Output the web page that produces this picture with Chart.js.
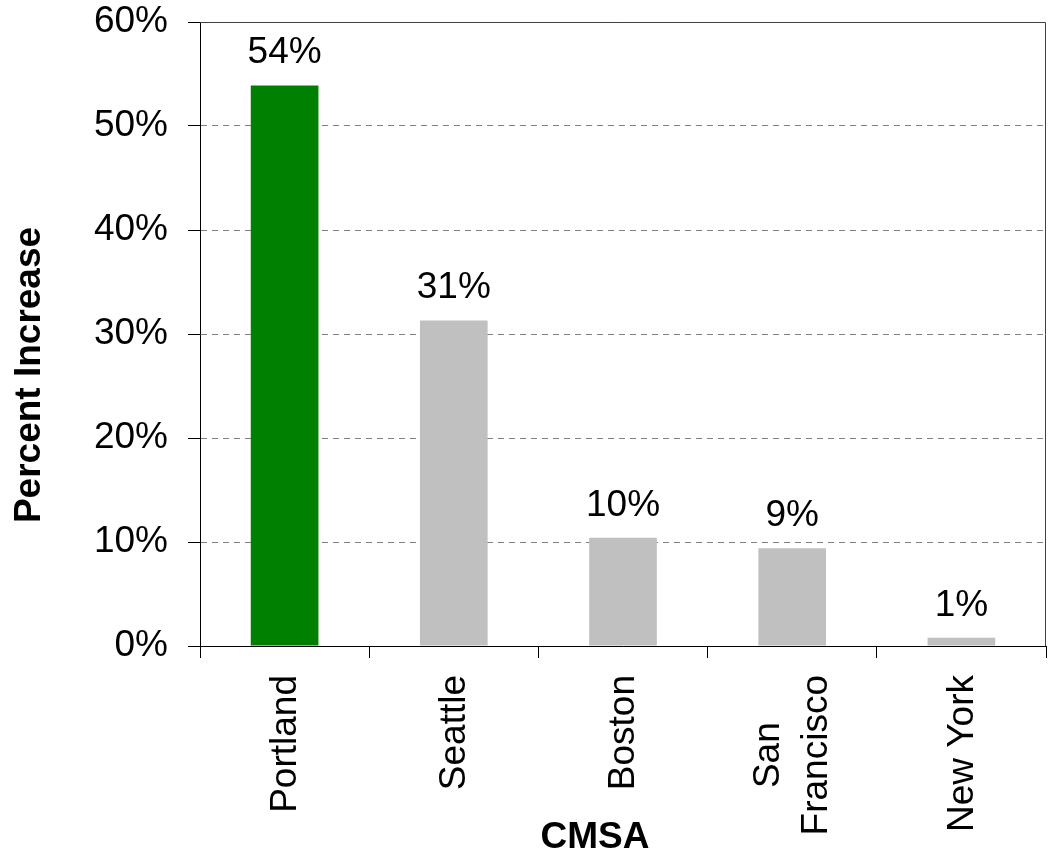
<!DOCTYPE html>
<html>
<head>
<meta charset="utf-8">
<script src="https://cdn.jsdelivr.net/npm/chart.js@4/dist/chart.umd.min.js"></script>
<style>
  html, body { margin: 0; padding: 0; background: #fff; }
  #wrap { width: 1050px; height: 859px; }
</style>
</head>
<body>
<div id="wrap"><canvas id="myChart" width="1050" height="859"></canvas></div>
<script>
var cities = ['Portland', 'Seattle', 'Boston', ['San', 'Francisco'], 'New York'];
var increase = [53.9, 31.3, 10.4, 9.4, 0.8];
var barColors = ['#008000', '#c0c0c0', '#c0c0c0', '#c0c0c0', '#c0c0c0'];
var yTicks = [0, 10, 20, 30, 40, 50, 60];

var FONT = 'Liberation Sans, Arial, sans-serif';

// value labels, category labels, axis titles, plot border
var labelPlugin = {
    id: 'labelPlugin',
    afterDraw: function(chart) {
        var ctx = chart.ctx;
        var area = chart.chartArea;
        ctx.save();
        ctx.strokeStyle = '#404040';
        ctx.lineWidth = 1;
        ctx.beginPath();
        ctx.moveTo(area.left, area.top + 0.5);
        ctx.lineTo(area.right - 0.5, area.top + 0.5);
        ctx.lineTo(area.right - 0.5, area.bottom);
        ctx.stroke();

        ctx.fillStyle = '#000';
        ctx.font = '37px ' + FONT;
        ctx.textAlign = 'center';
        ctx.textBaseline = 'alphabetic';
        var meta = chart.getDatasetMeta(0);
        meta.data.forEach(function(bar, i) {
            ctx.fillText(Math.round(increase[i]) + '%', bar.x, bar.y - 22);
        });

        // category labels, rotated, block top at a fixed distance under the axis
        var xs = chart.scales.x;
        ctx.textBaseline = 'middle';
        cities.forEach(function(lab, i) {
            var lines = Array.isArray(lab) ? lab : [lab];
            var maxW = 0;
            lines.forEach(function(l) { maxW = Math.max(maxW, ctx.measureText(l).width); });
            var cx = xs.getPixelForValue(i) + 1;
            var cy = area.bottom + 29 + maxW / 2;
            lines.forEach(function(l, j) {
                ctx.save();
                ctx.translate(cx + (j - (lines.length - 1) / 2) * 48, cy);
                ctx.rotate(-Math.PI / 2);
                ctx.fillText(l, 0, 0);
                ctx.restore();
            });
        });

        ctx.font = 'bold 37px ' + FONT;
        ctx.fillText('CMSA', 595, 838);
        ctx.translate(30, 375);
        ctx.rotate(-Math.PI / 2);
        ctx.fillText('Percent Increase', 0, 0);
        ctx.restore();
    }
};

var ctx1 = document.getElementById('myChart').getContext('2d');
var myBarChart = new Chart(ctx1, {
    type: 'bar',
    data: {
        labels: cities,
        datasets: [{
            data: increase,
            backgroundColor: barColors,
            borderWidth: 0,
            barPercentage: 0.8,
            categoryPercentage: 0.5
        }]
    },
    options: {
        responsive: false,
        animation: false,
        layout: { padding: { top: 22, right: 4, left: 0, bottom: 0 } },
        plugins: {
            legend: { display: false },
            tooltip: { enabled: false }
        },
        scales: {
            x: {
                grid: {
                    drawOnChartArea: false,
                    drawTicks: true,
                    tickLength: 12,
                    tickColor: '#000',
                    offset: true
                },
                border: { color: '#000', width: 1 },
                ticks: { display: false },
                afterFit: function(scale) { scale.height = 213; }
            },
            y: {
                min: 0,
                max: 60,
                afterBuildTicks: function(scale) {
                    scale.ticks = yTicks.map(function(v) { return { value: v }; });
                },
                grid: {
                    color: '#808080',
                    tickColor: '#000',
                    tickLength: 12,
                    lineWidth: 1
                },
                border: { color: '#000', width: 1, dash: [6, 5] },
                ticks: {
                    color: '#000',
                    font: { family: FONT, size: 37 },
                    padding: 20,
                    callback: function(v) { return v + '%'; }
                },
                afterFit: function(scale) {
                    scale.width = 200;
                    scale.paddingTop = 0;
                    scale.paddingBottom = 0;
                }
            }
        }
    },
    plugins: [labelPlugin]
});
</script>
</body>
</html>
